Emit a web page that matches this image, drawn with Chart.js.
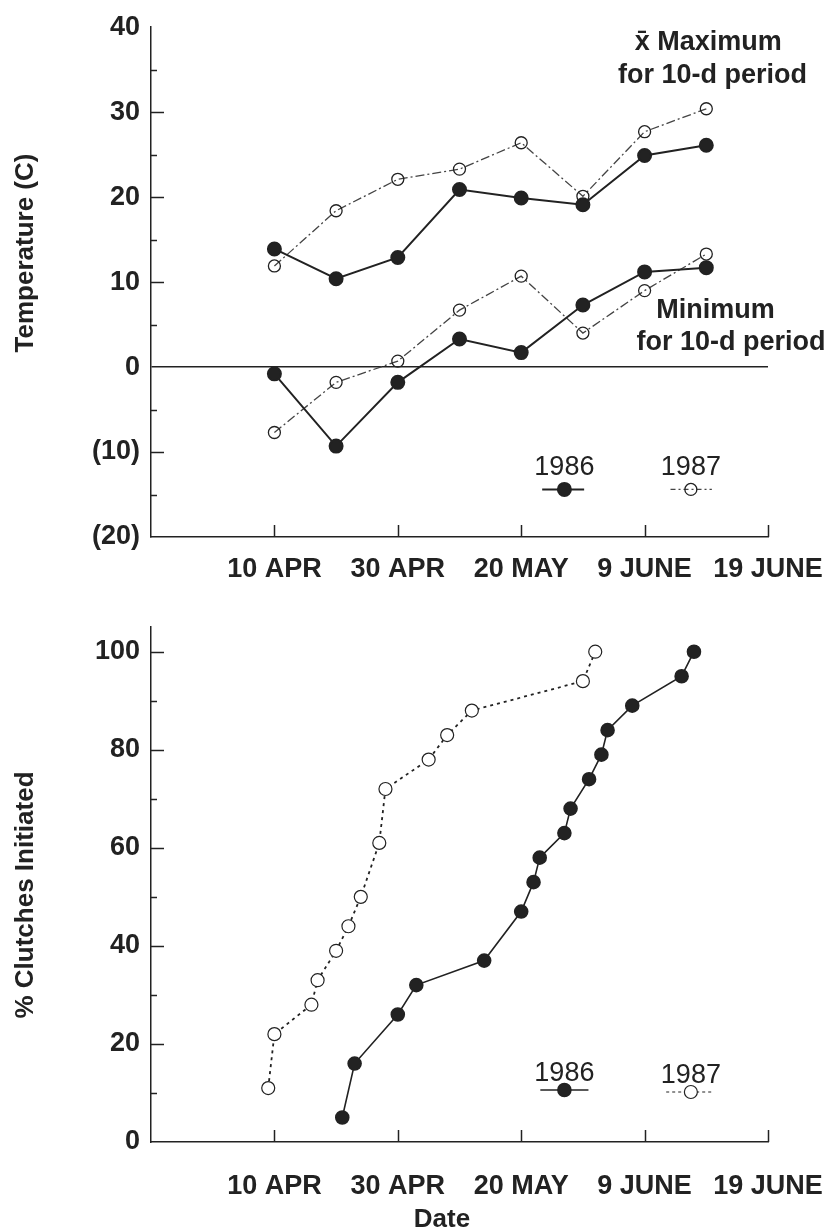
<!DOCTYPE html>
<html>
<head>
<meta charset="utf-8">
<script src="https://cdn.jsdelivr.net/npm/chart.js@4.4.1/dist/chart.umd.min.js"></script>
<style>
  html, body { margin: 0; padding: 0; background: #fff; }
  #wrap { position: relative; width: 836px; height: 1232px; }
  .box { position: absolute; left: 0; width: 836px; }
</style>
</head>
<body>
<div id="wrap">
  <div class="box" style="top:0;height:600px"><canvas id="tempChart"></canvas></div>
  <div class="box" style="top:600px;height:632px"><canvas id="clutchChart"></canvas></div>
</div>
<script>
// x values are days counted from 10 APR
const dateTickDays = [0, 20, 40, 60, 80]
const dateTickLabels = ["10 APR", "30 APR", "20 MAY", "9 JUNE", "19 JUNE"]

// temperature panel: 10-d periods
const tempDays = [0, 10, 20, 30, 40, 50, 60, 70]
const max1986 = [13.9, 10.4, 12.9, 20.9, 19.9, 19.1, 24.9, 26.1]
const max1987 = [11.9, 18.4, 22.1, 23.3, 26.4, 20.1, 27.7, 30.4]
const min1986 = [-0.8, -9.3, -1.8, 3.3, 1.7, 7.3, 11.2, 11.7]
const min1987 = [-7.7, -1.8, 0.7, 6.7, 10.7, 4.0, 9.0, 13.3]
const tempTicks = [-20, -10, 0, 10, 20, 30, 40]

// clutch panel: cumulative % of clutches initiated
const clutchDays1986 = [11, 13, 20, 23, 34, 40, 42, 43, 47, 48, 51, 53, 54, 58, 66, 68]
const clutchPct1986 = [5, 16, 26, 32, 37, 47, 53, 58, 63, 68, 74, 79, 84, 89, 95, 100]
const clutchDays1987 = [-1, 0, 6, 7, 10, 12, 14, 17, 18, 25, 28, 32, 50, 52]
const clutchPct1987 = [11, 22, 28, 33, 39, 44, 50, 61, 72, 78, 83, 88, 94, 100]
const clutchTicks = [0, 20, 40, 60, 80, 100]

const INK = "#222"
const GREY = "#444"
const FONT = '"Liberation Sans", Arial, Helvetica, sans-serif'

Chart.defaults.font.family = FONT
Chart.defaults.color = INK

const pts = (xs, ys) => xs.map((x, i) => ({ x: x, y: ys[i] }))

// draws inward ticks, notes and axis titles
function makeDecor(cfg) {
  return {
    id: "decor",
    afterDraw(chart) {
      const { ctx, chartArea } = chart
      const x = chart.scales.x
      const y = chart.scales.y
      ctx.save()
      ctx.strokeStyle = INK
      ctx.lineWidth = 1.5
      const seg = (x1, y1, x2, y2) => {
        ctx.beginPath()
        ctx.moveTo(x1, y1)
        ctx.lineTo(x2, y2)
        ctx.stroke()
      }
      cfg.yMajor.forEach((v) => {
        const py = Math.round(y.getPixelForValue(v)) + 0.5
        seg(chartArea.left, py, chartArea.left + 13, py)
      })
      cfg.yMinor.forEach((v) => {
        const py = Math.round(y.getPixelForValue(v)) + 0.5
        seg(chartArea.left, py, chartArea.left + 6, py)
      })
      dateTickDays.forEach((v) => {
        const px = Math.round(x.getPixelForValue(v)) + 0.5
        seg(px, chartArea.bottom, px, chartArea.bottom - 12)
      })

      ctx.fillStyle = INK
      ctx.textAlign = "center"
      ctx.textBaseline = "middle"
      cfg.notes.forEach((n) => {
        ctx.font = n.font
        ctx.fillText(n.text, x.getPixelForValue(n.x), y.getPixelForValue(n.y))
      })

      ctx.font = "bold 26px " + FONT
      ctx.save()
      ctx.translate(cfg.yTitle.px, cfg.yTitle.py)
      ctx.rotate(-Math.PI / 2)
      ctx.fillText(cfg.yTitle.text, 0, 0)
      ctx.restore()
      if (cfg.xTitle) {
        ctx.fillText(cfg.xTitle.text, cfg.xTitle.px, cfg.xTitle.py)
      }
      ctx.restore()
    },
  }
}

function xScale(height, pad) {
  return {
    type: "linear",
    position: "bottom",
    min: -20,
    max: 80,
    grid: { display: false, drawTicks: false },
    border: { display: true, color: INK, width: 1.5 },
    afterBuildTicks: (s) => { s.ticks = dateTickDays.map((v) => ({ value: v })) },
    afterFit: (s) => {
      s.height = height
      // keep the plot edge fixed, the last label fits in the layout padding
      s.paddingLeft = 0
      s.paddingRight = 0
    },
    ticks: {
      autoSkip: false,
      maxRotation: 0,
      padding: pad,
      color: INK,
      font: { size: 27, weight: "bold" },
      callback: (v) => dateTickLabels[dateTickDays.indexOf(v)] || "",
    },
  }
}

const bigBold = "bold 27px " + FONT
const legendFont = "27px " + FONT

document.addEventListener("DOMContentLoaded", () => {
  // Temperature panel
  new Chart(document.getElementById("tempChart").getContext("2d"), {
    type: "line",
    data: {
      datasets: [
        {
          label: "Maximum 1986",
          data: pts(tempDays, max1986),
          borderColor: INK,
          borderWidth: 2,
          pointRadius: 6.5,
          pointBackgroundColor: INK,
          pointBorderColor: INK,
        },
        {
          label: "Maximum 1987",
          data: pts(tempDays, max1987),
          borderColor: GREY,
          borderWidth: 1.3,
          borderDash: [9, 3, 2, 3],
          pointRadius: 6,
          pointBackgroundColor: "rgba(0,0,0,0)",
          pointBorderColor: INK,
          pointBorderWidth: 1.3,
        },
        {
          label: "Minimum 1986",
          data: pts(tempDays, min1986),
          borderColor: INK,
          borderWidth: 2,
          pointRadius: 6.5,
          pointBackgroundColor: INK,
          pointBorderColor: INK,
        },
        {
          label: "Minimum 1987",
          data: pts(tempDays, min1987),
          borderColor: GREY,
          borderWidth: 1.3,
          borderDash: [9, 3, 2, 3],
          pointRadius: 6,
          pointBackgroundColor: "rgba(0,0,0,0)",
          pointBorderColor: INK,
          pointBorderWidth: 1.3,
        },
        // legend samples
        {
          label: "key 1986",
          data: [{ x: 43.4, y: -14.4 }, { x: 47, y: -14.4 }, { x: 50.2, y: -14.4 }],
          borderColor: INK,
          borderWidth: 2,
          pointRadius: [0, 6.5, 0],
          pointBackgroundColor: INK,
          pointBorderColor: INK,
        },
        {
          label: "key 1987",
          data: [{ x: 64.2, y: -14.4 }, { x: 67.5, y: -14.4 }, { x: 70.9, y: -14.4 }],
          borderColor: GREY,
          borderWidth: 1.3,
          borderDash: [5, 3, 2, 3],
          pointRadius: [0, 6, 0],
          pointBackgroundColor: "rgba(0,0,0,0)",
          pointBorderColor: INK,
          pointBorderWidth: 1.3,
        },
      ],
    },
    options: {
      responsive: true,
      maintainAspectRatio: false,
      animation: false,
      devicePixelRatio: 1,
      layout: { padding: { top: 25, right: 68, left: 0, bottom: 0 } },
      scales: {
        x: xScale(63, 16),
        y: {
          min: -20,
          max: 40,
          grid: {
            display: true,
            drawTicks: false,
            color: (c) => (c.tick && c.tick.value === 0 ? INK : "rgba(0,0,0,0)"),
            lineWidth: 1.5,
          },
          border: { display: true, color: INK, width: 1.5 },
          afterBuildTicks: (s) => { s.ticks = tempTicks.map((v) => ({ value: v })) },
          afterFit: (s) => { s.width = 151 },
          ticks: {
            padding: 11,
            color: INK,
            font: { size: 27, weight: "bold" },
            callback: (v) => (v < 0 ? "(" + -v + ")" : String(v)),
          },
        },
      },
      plugins: { legend: { display: false }, tooltip: { enabled: false } },
    },
    plugins: [
      makeDecor({
        yMajor: [30, 20, 10, -10],
        yMinor: [35, 25, 15, 5, -5, -15],
        notes: [
          { text: "x\u0304 Maximum", x: 70.3, y: 38.2, font: bigBold },
          { text: "for 10-d period", x: 71, y: 34.3, font: bigBold },
          { text: "Minimum", x: 71.5, y: 6.7, font: bigBold },
          { text: "for 10-d period", x: 74, y: 2.9, font: bigBold },
          { text: "1986", x: 47, y: -11.8, font: legendFont },
          { text: "1987", x: 67.5, y: -11.8, font: legendFont },
        ],
        yTitle: { text: "Temperature (C)", px: 26, py: 253 },
      }),
    ],
  })

  // Clutch initiation panel
  new Chart(document.getElementById("clutchChart").getContext("2d"), {
    type: "line",
    data: {
      datasets: [
        {
          label: "1986",
          data: pts(clutchDays1986, clutchPct1986),
          borderColor: INK,
          borderWidth: 1.6,
          pointRadius: 6.5,
          pointBackgroundColor: INK,
          pointBorderColor: INK,
        },
        {
          label: "1987",
          data: pts(clutchDays1987, clutchPct1987),
          borderColor: INK,
          borderWidth: 1.8,
          borderDash: [3, 4],
          pointRadius: 6.5,
          pointBackgroundColor: "#fff",
          pointBorderColor: INK,
          pointBorderWidth: 1.2,
        },
        {
          label: "key 1986",
          data: [{ x: 43.1, y: 10.6 }, { x: 47, y: 10.6 }, { x: 50.9, y: 10.6 }],
          borderColor: INK,
          borderWidth: 1.6,
          pointRadius: [0, 6.5, 0],
          pointBackgroundColor: INK,
          pointBorderColor: INK,
        },
        {
          label: "key 1987",
          data: [{ x: 63.5, y: 10.2 }, { x: 67.5, y: 10.2 }, { x: 71, y: 10.2 }],
          borderColor: INK,
          borderWidth: 1.2,
          borderDash: [3, 3],
          pointRadius: [0, 6.5, 0],
          pointBackgroundColor: "#fff",
          pointBorderColor: INK,
          pointBorderWidth: 1.2,
        },
      ],
    },
    options: {
      responsive: true,
      maintainAspectRatio: false,
      animation: false,
      devicePixelRatio: 1,
      layout: { padding: { top: 27, right: 68, left: 0, bottom: 0 } },
      scales: {
        x: xScale(90, 28),
        y: {
          min: 0,
          max: 105,
          grid: { display: false, drawTicks: false },
          border: { display: true, color: INK, width: 1.5 },
          afterBuildTicks: (s) => { s.ticks = clutchTicks.map((v) => ({ value: v })) },
          afterFit: (s) => { s.width = 151 },
          ticks: {
            padding: 11,
            color: INK,
            font: { size: 27, weight: "bold" },
          },
        },
      },
      plugins: { legend: { display: false }, tooltip: { enabled: false } },
    },
    plugins: [
      makeDecor({
        yMajor: [100, 80, 60, 40, 20],
        yMinor: [90, 70, 50, 30, 10],
        notes: [
          { text: "1986", x: 47, y: 14, font: legendFont },
          { text: "1987", x: 67.5, y: 13.6, font: legendFont },
        ],
        yTitle: { text: "% Clutches Initiated", px: 26, py: 295 },
        xTitle: { text: "Date", px: 442, py: 620 },
      }),
    ],
  })
})
</script>
</body>
</html>
